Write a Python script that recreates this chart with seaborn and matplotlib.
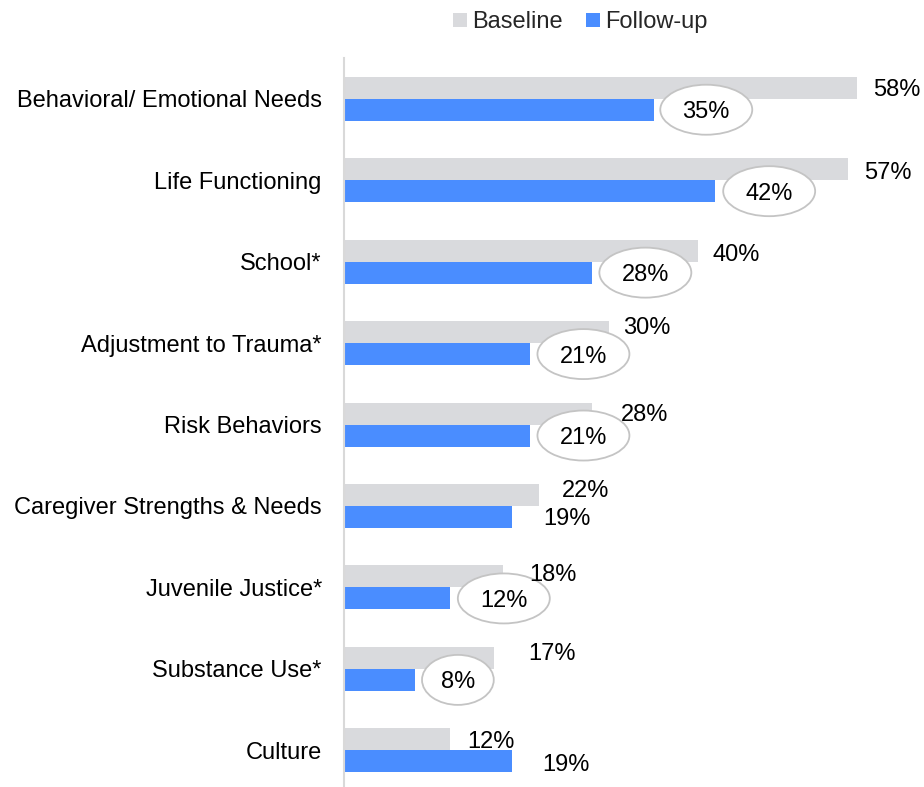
import matplotlib
matplotlib.use("Agg")
import matplotlib.pyplot as plt
from matplotlib.patches import Ellipse
from matplotlib.lines import Line2D
from matplotlib.transforms import IdentityTransform
import seaborn as sns
import pandas as pd

categories = [
    "Behavioral/ Emotional Needs",
    "Life Functioning",
    "School*",
    "Adjustment to Trauma*",
    "Risk Behaviors",
    "Caregiver Strengths & Needs",
    "Juvenile Justice*",
    "Substance Use*",
    "Culture",
]
baseline = [58, 57, 40, 30, 28, 22, 18, 17, 12]
follow_up = [35, 42, 28, 21, 21, 19, 12, 8, 19]
series_names = ["Baseline", "Follow-up"]
circled = [True, True, True, True, True, False, True, True, False]

GRAY = "#d9dadd"
BLUE = "#4a8dff"
FONT = "Liberation Sans"
FS = 17

# label nudges (pixels: right of bar end, down from bar centre)
base_nudge = [(16, 0), (16, 1), (15, 2), (14, -6.5), (29, -1.5),
              (23, -6.5), (26, -4), (34, -6), (17, 0)]
fol_nudge = [(29, 0), (30, 0), (30, 0), (30, 0), (30, 0),
             (31, 0), (30, 0), (26, 0), (30, 1)]
HALF_DIGIT = 8.5  # distance from digit centre to baseline, pixels

df = pd.DataFrame({
    "category": categories * 2,
    "value": baseline + follow_up,
    "period": [series_names[0]] * len(categories) + [series_names[1]] * len(categories),
})

sns.set_theme(style="white")
plt.rcParams["font.family"] = [FONT, "DejaVu Sans"]

fig = plt.figure(figsize=(9.24, 7.87), dpi=100)
ax = fig.add_axes([344 / 924, 0.0, 1 - 344 / 924, (787 - 58) / 787])

sns.barplot(data=df, y="category", x="value", hue="period", orient="h",
            palette=[GRAY, BLUE], width=0.54, linewidth=0, saturation=1,
            legend=False, ax=ax)

ax.set_xlim(0, 580 / 8.845)
ax.set_ylim(8.45, -0.5)
ax.set_xlabel("")
ax.set_ylabel("")
ax.set_xticks([])
for s in ["top", "right", "bottom"]:
    ax.spines[s].set_visible(False)
ax.spines["left"].set_color("#d9d9d9")
ax.spines["left"].set_linewidth(1.5)
ax.tick_params(axis="y", length=0, pad=16, labelsize=FS)
for t in ax.get_yticklabels():
    t.set_fontfamily(FONT)
    t.set_color("black")

bar_h = 0.27
fol_texts = []
for i, (b, f) in enumerate(zip(baseline, follow_up)):
    dx, dy = base_nudge[i]
    ax.annotate(f"{b}%", xy=(b, i - bar_h / 2), xytext=(dx, -(dy + HALF_DIGIT)),
                textcoords="offset pixels", ha="left", va="baseline",
                fontsize=FS, fontfamily=FONT, color="black",
                annotation_clip=False, zorder=6)
    fdx, fdy = fol_nudge[i]
    tf = ax.annotate(f"{f}%", xy=(f, i + bar_h / 2), xytext=(fdx, -(fdy + HALF_DIGIT)),
                     textcoords="offset pixels", ha="left", va="baseline",
                     fontsize=FS, fontfamily=FONT, color="black",
                     annotation_clip=False, zorder=6)
    fol_texts.append(tf)

fig.canvas.draw()
renderer = fig.canvas.get_renderer()
for i, (tf, c) in enumerate(zip(fol_texts, circled)):
    if not c:
        continue
    bb = tf.get_window_extent(renderer)
    cx = (bb.x0 + bb.x1) / 2
    cy = ax.transData.transform((follow_up[i], i + bar_h / 2))[1] - fol_nudge[i][1]
    el = Ellipse((cx, cy), width=1.54 * bb.width + 19, height=50,
                 transform=IdentityTransform(), facecolor="white",
                 edgecolor="#c4c4c4", linewidth=1.3, zorder=4, clip_on=False)
    ax.add_artist(el)

handles = [Line2D([0], [0], marker="s", linestyle="", markersize=10,
                  markerfacecolor=col, markeredgewidth=0)
           for col in (GRAY, BLUE)]
fig.legend(handles, series_names, loc="center", bbox_to_anchor=(580 / 924, 1 - 22 / 787),
           ncol=2, frameon=False, handlelength=0.6, handletextpad=0.2,
           columnspacing=1.0, prop={"family": FONT, "size": FS})

fig.savefig("out.png", dpi=100)
